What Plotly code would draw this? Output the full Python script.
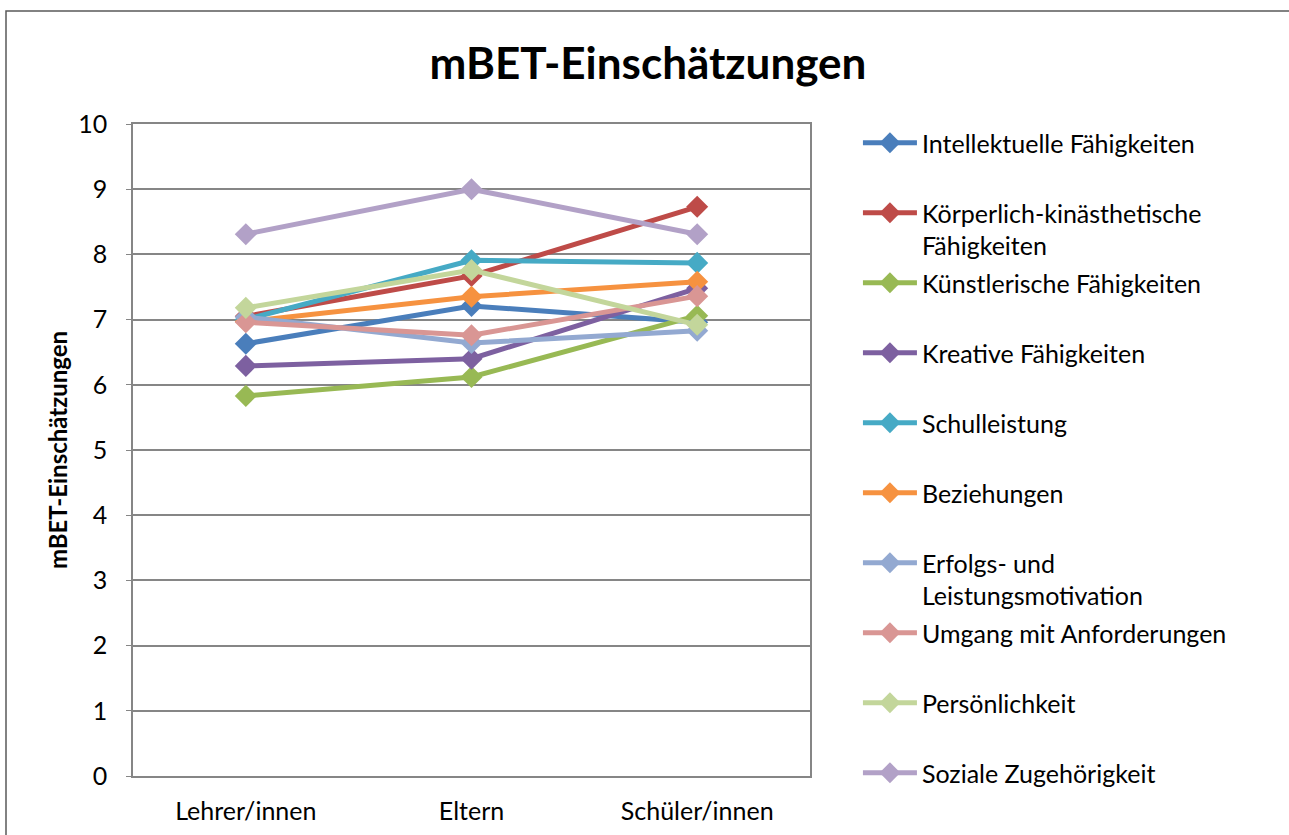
import plotly.graph_objects as go

categories = ["Lehrer/innen", "Eltern", "Schüler/innen"]

series_names = [
    "Intellektuelle Fähigkeiten",
    "Körperlich-kinästhetische<br>Fähigkeiten",
    "Künstlerische Fähigkeiten",
    "Kreative Fähigkeiten",
    "Schulleistung",
    "Beziehungen",
    "Erfolgs- und<br>Leistungsmotivation",
    "Umgang mit Anforderungen",
    "Persönlichkeit",
    "Soziale Zugehörigkeit",
]

intellektuelle = [6.63, 7.21, 6.96]
koerperlich = [7.05, 7.67, 8.73]
kuenstlerische = [5.83, 6.12, 7.06]
kreative = [6.29, 6.40, 7.48]
schulleistung = [7.00, 7.91, 7.87]
beziehungen = [6.97, 7.35, 7.58]
erfolg = [7.04, 6.64, 6.83]
umgang = [6.96, 6.76, 7.36]
persoenlichkeit = [7.18, 7.76, 6.92]
soziale = [8.31, 9.00, 8.31]

series_values = [intellektuelle, koerperlich, kuenstlerische, kreative, schulleistung,
                 beziehungen, erfolg, umgang, persoenlichkeit, soziale]

colors = ["#4A7EBB", "#BE4B48", "#98B954", "#7D60A0", "#46AAC5",
          "#F69240", "#93A9D1", "#D99694", "#C3D69B", "#B2A1C7"]

y_ticks = list(range(0, 11))

FONT = "Lato"
W, H = 1289, 835
ML, MR, MT, MB = 133, 479, 124, 59
PW, PH = W - ML - MR, H - MT - MB

fig = go.Figure()
legend_layout = {}
for i, (name, vals) in enumerate(zip(series_names, series_values)):
    key = "legend" if i == 0 else f"legend{i + 1}"
    fig.add_trace(go.Scatter(
        x=categories, y=vals, name=name, mode="lines+markers",
        line=dict(color=colors[i], width=5),
        marker=dict(symbol="diamond", size=17, color=colors[i]),
        legend=key,
    ))
    center_px = 144 + 70 * i
    top_px = center_px - 24
    legend_layout[key] = dict(
        x=(862 - ML) / PW - 0.006, xanchor="left",
        y=1 - (top_px - MT) / PH, yanchor="top",
        valign="top", font=dict(size=25, family=FONT),
        itemwidth=54, bgcolor="rgba(0,0,0,0)",
    )

fig.update_layout(
    width=W, height=H,
    paper_bgcolor="white", plot_bgcolor="white",
    margin=dict(l=ML, r=MR, t=MT, b=MB, autoexpand=False),
    font=dict(family=FONT, size=25, color="black"),
    title=dict(text="<b>mBET-Einschätzungen</b>", x=0.5027, xanchor="center",
               y=1 - 64 / H, yanchor="middle", font=dict(size=44, family=FONT)),
    showlegend=True,
    xaxis=dict(type="category", range=[-0.5, 2.5], showgrid=False,
               showline=True, linecolor="#868686", linewidth=1.5, mirror=True,
               ticks="", tickfont=dict(size=25), ticklabelstandoff=12,
               automargin=False),
    yaxis=dict(range=[0, 10], tickvals=y_ticks, showgrid=True, gridcolor="#868686",
               gridwidth=1.5, showline=True, linecolor="#868686", linewidth=1.5,
               mirror=True, ticks="outside", ticklen=5, tickcolor="#868686",
               tickfont=dict(size=25), ticklabelstandoff=14, automargin=False,
               title=dict(text="<b>mBET-Einschätzungen</b>", font=dict(size=24), standoff=4),
               zeroline=False),
    shapes=[dict(type="rect", xref="paper", yref="paper",
                 x0=(6 - ML) / PW, x1=2.0, y0=-0.5, y1=1 + (MT - 11) / PH,
                 line=dict(color="#5a5a5a", width=1.5), fillcolor="rgba(0,0,0,0)",
                 layer="below")],
    **legend_layout,
)

fig.write_html("out.html", config={"displayModeBar": False},
               post_script="document.body.style.margin='0px';")
